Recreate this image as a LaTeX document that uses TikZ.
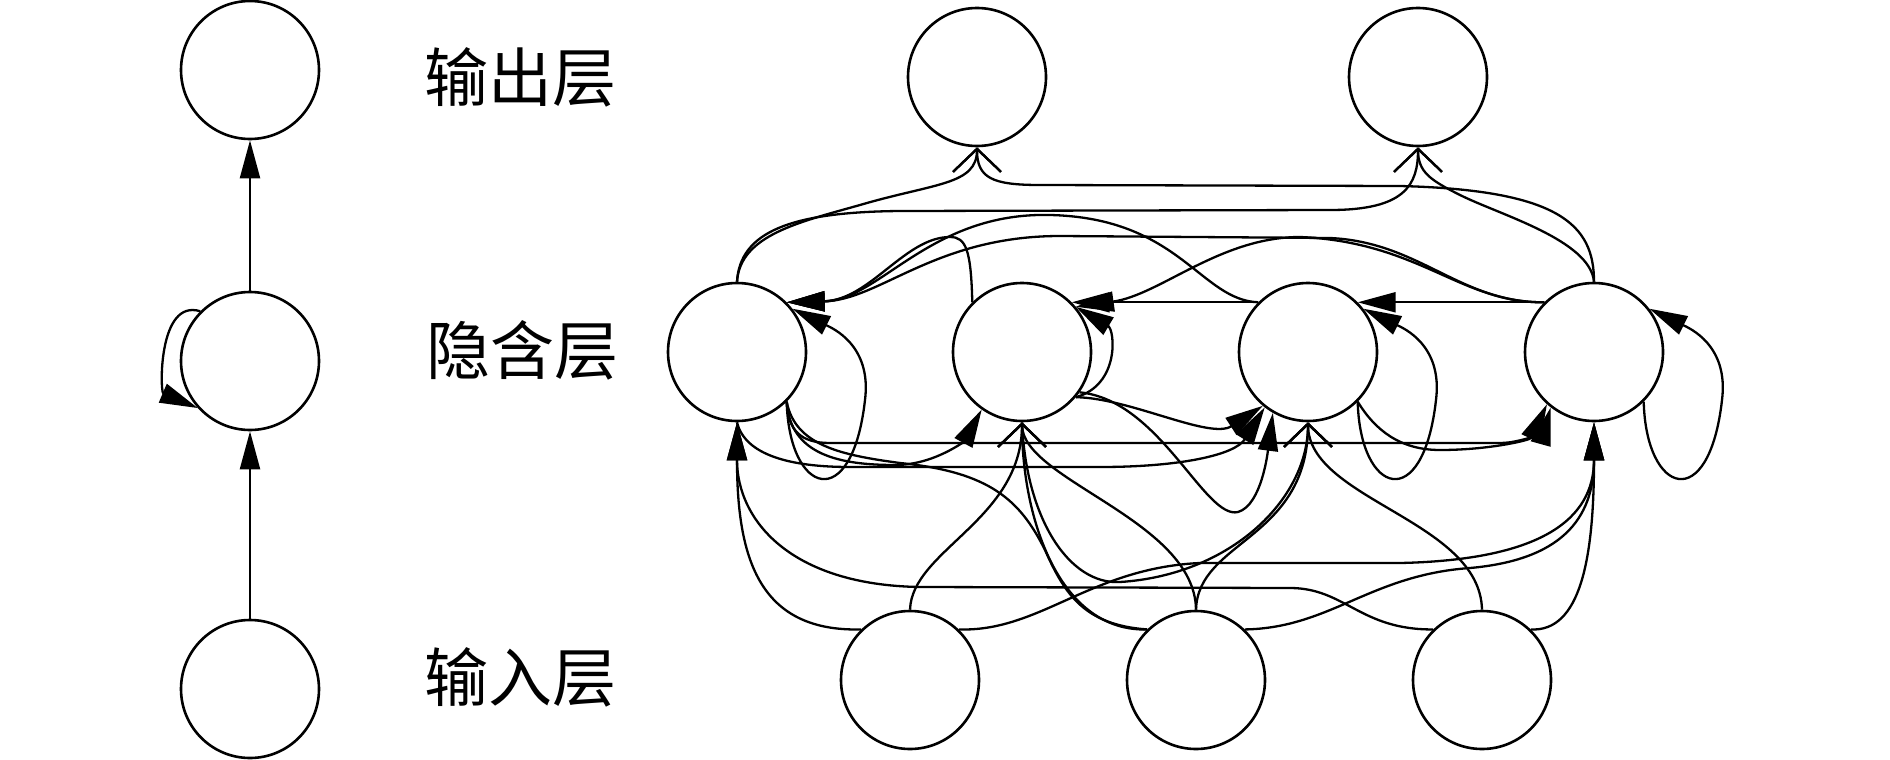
\documentclass[tikz,border=0pt]{standalone}
\usepackage{fontspec}
\newfontfamily\cjk{Noto Sans CJK SC}
\usetikzlibrary{arrows.meta}
\begin{document}
\begin{tikzpicture}[x=0.5pt,y=-0.5pt,
  neuron/.style={circle,draw,line width=1.3pt,minimum size=69pt,inner sep=0pt},
  conn/.style={line width=1.15pt},
  fa/.style={conn,-{Triangle[length=19pt,width=10pt]}},
  ob/.style={conn,-{Straight Barb[length=11.5pt,width=24pt]}},
  lbl/.style={font=\cjk\fontsize{32pt}{32pt}\selectfont,inner sep=0pt,anchor=west}
]
\useasboundingbox (0,0) rectangle (1890,760);

% left column
\node[neuron] (LO) at (250,70) {};
\node[neuron] (LH) at (250,361) {};
\node[neuron] (LI) at (250,689) {};
\draw[fa] (LI.north) -- (LH.south);
\draw[fa] (LH.north) -- (LO.south);
\draw[fa] (LH.135) .. controls (158,298) and (160,392) .. (LH.222);

% labels
\node[lbl] (t1) at (424,77) {输出层};
\node[lbl] (t2) at (426,350) {隐含层};
\node[lbl] (t3) at (424,677) {输入层};

% right network
\node[neuron] (O1) at (977,77) {};
\node[neuron] (O2) at (1418,77) {};
\node[neuron] (H1) at (737,352) {};
\node[neuron] (H2) at (1022,352) {};
\node[neuron] (H3) at (1308,352) {};
\node[neuron] (H4) at (1594,352) {};
\node[neuron] (I1) at (910,680) {};
\node[neuron] (I2) at (1196,680) {};
\node[neuron] (I3) at (1482,680) {};

% hidden -> output
\draw[ob] (H1.north) .. controls (740,235) and (800,222) .. (860,205) .. controls (935,183) and (977,185) .. (O1.south);
\draw[ob] (H1.north) .. controls (740,232) and (790,212) .. (900,211) -- (1330,210) .. controls (1405,210) and (1418,185) .. (O2.south);
\draw[ob] (H4.north) .. controls (1594,225) and (1560,190) .. (1400,186) -- (1040,185) .. controls (992,185) and (977,178) .. (O1.south);
\draw[ob] (H4.north) .. controls (1590,240) and (1500,215) .. (1460,195) .. controls (1430,180) and (1418,172) .. (O2.south);

% hidden recurrent, upper side
\draw[fa] (H2.135) .. controls (971,250) and (966,237) .. (950,237) .. controls (905,237) and (870,300) .. (H1.45);
\draw[fa] (H3.135) .. controls (1200,300) and (1180,218) .. (1050,215) .. controls (930,212) and (880,300) .. (H1.45);
\draw[fa] (H4.135) .. controls (1460,303) and (1420,242) .. (1330,238) -- (1060,236) .. controls (935,236) and (880,300) .. (H1.45);
\draw[fa] (H4.135) .. controls (1460,303) and (1420,242) .. (1300,237) .. controls (1220,237) and (1160,295) .. (H2.40);
\draw[fa] (H3.135) -- (H2.45);
\draw[fa] (H4.135) -- (H3.45);

% self loops
\draw[fa] (H1.315) .. controls (789,495) and (852,515) .. (865,400) .. controls (872,345) and (832,328) .. (H1.38);
\draw[fa] (H2.320) .. controls (1120,385) and (1115,330) .. (H2.40);
\draw[fa] (H3.315) .. controls (1360,495) and (1423,515) .. (1436,400) .. controls (1443,345) and (1403,328) .. (H3.38);
\draw[fa] (H4.315) .. controls (1646,495) and (1709,515) .. (1722,400) .. controls (1729,345) and (1689,328) .. (H4.38);

% hidden recurrent, lower side
\draw[fa] (H1.315) .. controls (790,455) and (840,465) .. (895,465) .. controls (935,465) and (965,440) .. (H2.235);
\draw[fa] (H1.south) .. controls (745,455) and (790,467) .. (850,467) -- (1100,467) .. controls (1180,467) and (1235,455) .. (H3.232);
\draw[fa] (H1.315) .. controls (788,430) and (800,443) .. (830,443) -- (1500,443) .. controls (1525,443) and (1545,428) .. (H4.232);
\draw[fa] (H2.320) .. controls (1130,398) and (1210,440) .. (H3.230);
\draw[fa] (H2.325) .. controls (1160,400) and (1205,520) .. (1238,512) .. controls (1262,505) and (1268,450) .. (H3.240);
\draw[fa] (H3.315) .. controls (1375,430) and (1400,450) .. (1440,450) .. controls (1490,450) and (1530,440) .. (H4.228);
\draw[ob] (H2.south) .. controls (1026,520) and (1070,585) .. (1120,582) .. controls (1230,575) and (1308,500) .. (H3.south);
\draw[conn] (H1.315) .. controls (795,445) and (840,455) .. (900,463) .. controls (990,472) and (1020,500) .. (1045,550) .. controls (1065,595) and (1085,625) .. (I2.134);

% input -> hidden
\draw[fa] (I1.134) .. controls (760,632) and (737,560) .. (H1.south);
\draw[fa] (I3.134) .. controls (1360,630) and (1345,588) .. (1290,588) -- (920,587) .. controls (790,585) and (737,520) .. (H1.south);
\draw[ob] (I1.north) .. controls (912,550) and (1022,520) .. (H2.south);
\draw[ob] (I2.134) .. controls (1060,632) and (1022,520) .. (H2.south);
\draw[ob] (I2.north) .. controls (1195,520) and (1022,480) .. (H2.south);
\draw[ob] (I2.north) .. controls (1198,540) and (1308,540) .. (H3.south);
\draw[ob] (I3.north) .. controls (1480,520) and (1308,500) .. (H3.south);
\draw[fa] (I1.46) .. controls (1040,632) and (1090,568) .. (1200,563) -- (1400,563) .. controls (1540,560) and (1594,520) .. (H4.south);
\draw[fa] (I2.46) .. controls (1330,628) and (1370,575) .. (1470,568) .. controls (1560,560) and (1594,520) .. (H4.south);
\draw[fa] (I3.46) .. controls (1580,632) and (1594,560) .. (H4.south);
\end{tikzpicture}
\end{document}
